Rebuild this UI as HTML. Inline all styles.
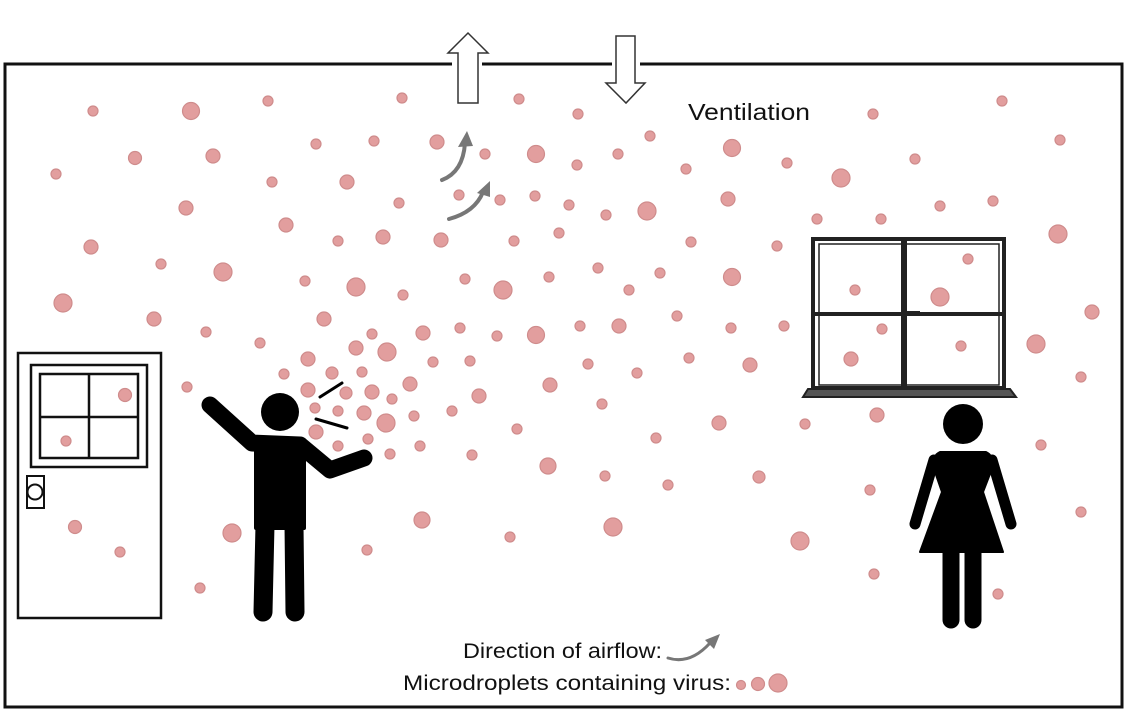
<!DOCTYPE html>
<html><head><meta charset="utf-8"><style>
html,body{margin:0;padding:0;background:#fff;}
svg{display:block;}
text{font-family:"Liberation Sans",Arial,sans-serif;fill:#111;}
</style></head><body>
<svg width="1128" height="712" viewBox="0 0 1128 712" xmlns="http://www.w3.org/2000/svg">
<rect x="0" y="0" width="1128" height="712" fill="#fff"/>
<rect x="5" y="64" width="1117" height="643" fill="none" stroke="#111" stroke-width="3"/>

<!-- ventilation arrows -->
<g fill="#fff" stroke="#333" stroke-width="1.5">
<rect x="452" y="62" width="30" height="5" stroke="none"/>
<polygon points="458,103 458,53 448,53 468,33 488,53 478,53 478,103"/>
<rect x="612" y="62" width="28" height="5" stroke="none"/>
<polygon points="616,36 616,83 606,83 626,103 645,83 635,83 635,36"/>
</g>
<text x="688" y="120" font-size="23" textLength="122" lengthAdjust="spacingAndGlyphs">Ventilation</text>

<!-- droplets -->
<g fill="#e29e9e" stroke="#cf8c8c" stroke-width="1.2">
<circle cx="93" cy="111" r="5"/><circle cx="191" cy="111" r="8.5"/><circle cx="268" cy="101" r="5"/><circle cx="402" cy="98" r="5"/><circle cx="519" cy="99" r="5"/>
<circle cx="56" cy="174" r="5"/><circle cx="135" cy="158" r="6.5"/><circle cx="213" cy="156" r="7"/><circle cx="316" cy="144" r="5"/><circle cx="374" cy="141" r="5"/><circle cx="437" cy="142" r="7"/><circle cx="485" cy="154" r="5"/><circle cx="536" cy="154" r="8.5"/>
<circle cx="272" cy="182" r="5"/><circle cx="347" cy="182" r="7"/><circle cx="399" cy="203" r="5"/><circle cx="459" cy="195" r="5"/><circle cx="500" cy="200" r="5"/><circle cx="535" cy="196" r="5"/>
<circle cx="186" cy="208" r="7"/><circle cx="286" cy="225" r="7"/><circle cx="338" cy="241" r="5"/><circle cx="383" cy="237" r="7"/><circle cx="441" cy="240" r="7"/><circle cx="514" cy="241" r="5"/><circle cx="559" cy="233" r="5"/>
<circle cx="91" cy="247" r="7"/><circle cx="161" cy="264" r="5"/><circle cx="223" cy="272" r="9"/><circle cx="305" cy="281" r="5"/><circle cx="356" cy="287" r="9"/><circle cx="403" cy="295" r="5"/><circle cx="465" cy="279" r="5"/><circle cx="503" cy="290" r="9"/><circle cx="549" cy="277" r="5"/>
<circle cx="63" cy="303" r="9"/><circle cx="154" cy="319" r="7"/><circle cx="206" cy="332" r="5"/><circle cx="324" cy="319" r="7"/><circle cx="372" cy="334" r="5"/><circle cx="423" cy="333" r="7"/><circle cx="460" cy="328" r="5"/><circle cx="497" cy="336" r="5"/><circle cx="536" cy="335" r="8.5"/>
<circle cx="260" cy="343" r="5"/><circle cx="356" cy="348" r="7"/><circle cx="387" cy="352" r="9"/><circle cx="308" cy="359" r="7"/><circle cx="433" cy="362" r="5"/><circle cx="470" cy="361" r="5"/>
<circle cx="284" cy="374" r="5"/><circle cx="332" cy="373" r="6"/><circle cx="362" cy="372" r="5"/><circle cx="410" cy="384" r="7"/><circle cx="550" cy="385" r="7"/><circle cx="187" cy="387" r="5"/><circle cx="308" cy="390" r="7"/><circle cx="346" cy="393" r="6"/><circle cx="372" cy="392" r="7"/><circle cx="392" cy="399" r="5"/><circle cx="479" cy="396" r="7"/>
<circle cx="315" cy="408" r="5"/><circle cx="338" cy="411" r="5"/><circle cx="364" cy="413" r="7"/><circle cx="452" cy="411" r="5"/><circle cx="414" cy="416" r="5"/><circle cx="386" cy="423" r="9"/><circle cx="517" cy="429" r="5"/><circle cx="316" cy="432" r="7"/><circle cx="368" cy="439" r="5"/><circle cx="338" cy="446" r="5"/><circle cx="390" cy="454" r="5"/><circle cx="420" cy="446" r="5"/><circle cx="472" cy="455" r="5"/><circle cx="548" cy="466" r="8"/>
<circle cx="125" cy="395" r="6.5"/><circle cx="66" cy="441" r="5"/><circle cx="75" cy="527" r="6.5"/><circle cx="120" cy="552" r="5"/><circle cx="232" cy="533" r="9"/><circle cx="422" cy="520" r="8"/><circle cx="367" cy="550" r="5"/><circle cx="510" cy="537" r="5"/><circle cx="200" cy="588" r="5"/>
<circle cx="578" cy="114" r="5"/><circle cx="650" cy="136" r="5"/><circle cx="618" cy="154" r="5"/><circle cx="577" cy="165" r="5"/><circle cx="732" cy="148" r="8.5"/><circle cx="686" cy="169" r="5"/><circle cx="787" cy="163" r="5"/><circle cx="841" cy="178" r="9"/><circle cx="915" cy="159" r="5"/><circle cx="873" cy="114" r="5"/><circle cx="1002" cy="101" r="5"/><circle cx="1060" cy="140" r="5"/>
<circle cx="569" cy="205" r="5"/><circle cx="606" cy="215" r="5"/><circle cx="647" cy="211" r="9"/><circle cx="728" cy="199" r="7"/><circle cx="817" cy="219" r="5"/><circle cx="881" cy="219" r="5"/><circle cx="940" cy="206" r="5"/><circle cx="993" cy="201" r="5"/><circle cx="1058" cy="234" r="9"/>
<circle cx="691" cy="242" r="5"/><circle cx="777" cy="246" r="5"/><circle cx="598" cy="268" r="5"/><circle cx="660" cy="273" r="5"/><circle cx="629" cy="290" r="5"/><circle cx="732" cy="277" r="8.5"/><circle cx="968" cy="259" r="5"/><circle cx="855" cy="290" r="5"/><circle cx="940" cy="297" r="9"/><circle cx="1092" cy="312" r="7"/>
<circle cx="580" cy="326" r="5"/><circle cx="619" cy="326" r="7"/><circle cx="677" cy="316" r="5"/><circle cx="731" cy="328" r="5"/><circle cx="784" cy="326" r="5"/><circle cx="882" cy="329" r="5"/><circle cx="1036" cy="344" r="9"/><circle cx="961" cy="346" r="5"/><circle cx="851" cy="359" r="7"/><circle cx="588" cy="364" r="5"/><circle cx="689" cy="358" r="5"/><circle cx="750" cy="365" r="7"/>
<circle cx="637" cy="373" r="5"/><circle cx="1081" cy="377" r="5"/><circle cx="602" cy="404" r="5"/><circle cx="719" cy="423" r="7"/><circle cx="805" cy="424" r="5"/><circle cx="877" cy="415" r="7"/><circle cx="1041" cy="445" r="5"/><circle cx="656" cy="438" r="5"/><circle cx="605" cy="476" r="5"/><circle cx="668" cy="485" r="5"/><circle cx="759" cy="477" r="6"/><circle cx="870" cy="490" r="5"/><circle cx="1081" cy="512" r="5"/><circle cx="613" cy="527" r="9"/><circle cx="800" cy="541" r="9"/><circle cx="874" cy="574" r="5"/><circle cx="998" cy="594" r="5"/>
</g>

<!-- curved airflow arrows -->
<g fill="none" stroke="#777" stroke-width="4" stroke-linecap="round">
<path d="M442,180 Q463,172 465,143"/>
<path d="M449,219 Q475,212 483,192"/>
<path d="M668,658 Q690,665 710,643" stroke-width="3"/>
</g>
<g fill="#777">
<polygon points="467,131 458,147 473,146"/>
<polygon points="490,181 477,193 490,197"/>
<polygon points="720,634 705,640 714,649"/>
</g>

<!-- door -->
<g fill="none" stroke="#111" stroke-width="2.5">
<rect x="18" y="353" width="143" height="265"/>
<rect x="31" y="365" width="116" height="102"/>
<rect x="40" y="374" width="98" height="84"/>
<line x1="89" y1="374" x2="89" y2="458"/>
<line x1="40" y1="417" x2="138" y2="417"/>
<rect x="27" y="476" width="17" height="32" stroke-width="2"/>
<circle cx="35" cy="492" r="7.5" fill="#fff" stroke-width="2"/>
</g>

<!-- window -->
<g fill="none" stroke="#222">
<rect x="813" y="239" width="191" height="149" stroke-width="4"/>
<rect x="819" y="244" width="180" height="141" stroke-width="1.5"/>
<line x1="904" y1="239" x2="904" y2="388" stroke-width="6"/>
<line x1="813" y1="314" x2="1004" y2="314" stroke-width="4"/>
<line x1="904" y1="312" x2="920" y2="312" stroke-width="2"/>
</g>
<polygon points="803,397 808,389 1010,389 1016,397" fill="#555" stroke="#222" stroke-width="2"/>

<!-- man -->
<g fill="#000" stroke="#000" stroke-linecap="round" stroke-linejoin="round">
<circle cx="280" cy="412" r="19" stroke="none"/>
<path d="M210,405 L252,443 L300,445 L330,470 L364,458" fill="none" stroke-width="17"/>
<path d="M256,440 L304,440 L304,528 L256,528 Z" stroke-width="4"/>
<line x1="265" y1="525" x2="263" y2="612" stroke-width="19"/>
<line x1="294" y1="525" x2="295" y2="612" stroke-width="19"/>
</g>
<g stroke="#000" stroke-width="3" stroke-linecap="round">
<line x1="320" y1="397" x2="342" y2="383"/>
<line x1="316" y1="419" x2="347" y2="428"/>
</g>

<!-- woman -->
<g fill="#000" stroke="#000" stroke-linecap="round" stroke-linejoin="round">
<circle cx="963" cy="424" r="20" stroke="none"/>
<path d="M940,452 L986,452 Q993,455 993,466 L983,492 L1003,552 L920,552 L942,492 L933,466 Q933,455 940,452 Z" stroke-width="2"/>
<path d="M934,460 L915,524" fill="none" stroke-width="11"/>
<path d="M992,460 L1011,524" fill="none" stroke-width="11"/>
<line x1="951" y1="550" x2="951" y2="620" stroke-width="17"/>
<line x1="973" y1="550" x2="973" y2="620" stroke-width="17"/>
</g>

<!-- legend -->
<text x="463" y="658" font-size="21" textLength="199" lengthAdjust="spacingAndGlyphs">Direction of airflow:</text>
<text x="403" y="690" font-size="21" textLength="328" lengthAdjust="spacingAndGlyphs">Microdroplets containing virus:</text>
<g fill="#e29e9e" stroke="#cf8c8c" stroke-width="1.2">
<circle cx="741" cy="685" r="4.5"/><circle cx="758" cy="684" r="6.5"/><circle cx="778" cy="683" r="9"/>
</g>
</svg>
</body></html>
